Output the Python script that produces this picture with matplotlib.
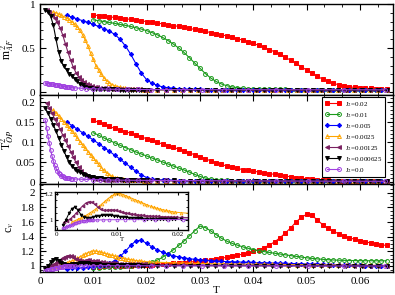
import numpy as np
import matplotlib
matplotlib.use('Agg')
import matplotlib.pyplot as plt
from matplotlib.ticker import MultipleLocator, AutoMinorLocator, FuncFormatter

plt.rcParams['font.family'] = ['Liberation Serif', 'DejaVu Serif']
plt.rcParams['mathtext.fontset'] = 'stix'

# ---- data ----
T_red = np.linspace(0.010, 0.065, 56)
red_m2 = [.875, .868, .861, .854, .847, .840, .832, .825, .817, .809,
          .800, .792, .783, .774, .765, .755, .745, .734, .723, .711,
          .699, .688, .676, .664, .651, .637, .622, .606, .589, .571,
          .552, .531, .508, .483, .456, .427, .395, .361, .325, .288,
          .250, .213, .178, .147, .120, .099, .082, .069, .059, .052,
          .047, .043, .040, .037, .035, .033]
red_t2 = [.154, .149, .144, .139, .134, .130, .126, .122, .117, .113,
          .108, .104, .099, .095, .091, .087, .082, .078, .073, .068,
          .063, .058, .053, .048, .044, .040, .037, .034, .031, .029,
          .027, .025, .023, .021, .019, .017, .015, .013, .011, .0095,
          .008, .0065, .0055, .0045, .0038, .0032, .0027, .0023, .002, .0018,
          .0016, .0015, .0014, .0013, .0012, .0012]
red_cv = [.990, .992, .994, .996, .998, 1.000, 1.003, 1.006, 1.009, 1.012,
          1.015, 1.019, 1.023, 1.027, 1.031, 1.036, 1.041, 1.047, 1.053, 1.060,
          1.068, 1.076, 1.085, 1.095, 1.106, 1.118, 1.131, 1.146, 1.162, 1.180,
          1.200, 1.222, 1.250, 1.285, 1.330, 1.385, 1.450, 1.520, 1.600, 1.665,
          1.705, 1.690, 1.630, 1.565, 1.515, 1.475, 1.440, 1.410, 1.385, 1.365,
          1.345, 1.330, 1.315, 1.300, 1.290, 1.280]

T_green = np.linspace(0.010, 0.065, 56)
green_m2 = [.820, .810, .800, .790, .780, .768, .757, .745, .730, .715,
            .697, .675, .650, .620, .585, .545, .500, .450, .390, .330,
            .270, .210, .160, .120, .092, .072, .058, .049, .043, .039,
            .036, .034, .032, .031, .030, .029, .029, .028, .028, .027,
            .027, .027, .026, .026, .026, .025, .025, .025, .025, .024,
            .024, .024, .024, .024, .023, .023]
green_t2 = [.123, .117, .110, .104, .098, .092, .086, .081, .075, .070,
            .065, .060, .055, .050, .045, .040, .035, .030, .025, .019,
            .014, .010, .0075, .0058, .0047, .004, .0035, .0031, .0028, .0026,
            .0024, .0023, .0022, .0021, .0020, .0020, .0019, .0019, .0018, .0018,
            .0018, .0017, .0017, .0017, .0016, .0016, .0016, .0016, .0015, .0015,
            .0015, .0015, .0015, .0015, .0014, .0014]
green_cv = [.975, .978, .981, .984, .987, .991, .996, 1.002, 1.010, 1.020,
            1.033, 1.052, 1.080, 1.120, 1.170, 1.220, 1.280, 1.340, 1.410, 1.480,
            1.545, 1.525, 1.480, 1.430, 1.380, 1.340, 1.310, 1.285, 1.262, 1.242,
            1.225, 1.210, 1.197, 1.185, 1.174, 1.163, 1.153, 1.142, 1.132, 1.122,
            1.112, 1.104, 1.097, 1.091, 1.086, 1.082, 1.079, 1.077, 1.075, 1.074,
            1.073, 1.072, 1.072, 1.071, 1.071, 1.071]

T_blue = np.linspace(0.005, 0.065, 61)
blue_m2 = [.870, .850, .830, .810, .790, .768, .745, .720, .692, .655,
           .600, .525, .430, .320, .215, .140, .100, .075, .058, .048,
           .041, .036, .033, .031, .030, .029, .028, .027, .027, .026,
           .026, .025, .025, .025, .024, .024, .024, .024, .023, .023,
           .023, .023, .023, .022, .022, .022, .022, .022, .022, .021,
           .021, .021, .021, .021, .021, .021, .020, .020, .020, .020, .020]
blue_t2 = [.150, .141, .132, .123, .114, .105, .096, .086, .077, .067,
           .057, .047, .037, .027, .018, .011, .0075, .0058, .0048, .0042,
           .0038, .0035, .0033, .0031, .0030, .0029, .0028, .0027, .0026, .0025,
           .0025, .0024, .0024, .0023, .0023, .0022, .0022, .0021, .0021, .0021,
           .0020, .0020, .0020, .0019, .0019, .0019, .0018, .0018, .0018, .0018,
           .0017, .0017, .0017, .0017, .0016, .0016, .0016, .0016, .0016, .0015, .0015]
blue_cv = [.965, .968, .971, .975, .980, .986, .995, 1.010, 1.035, 1.075,
           1.130, 1.200, 1.280, 1.345, 1.350, 1.310, 1.260, 1.220, 1.187, 1.160,
           1.140, 1.124, 1.111, 1.100, 1.090, 1.082, 1.076, 1.071, 1.067, 1.063,
           1.060, 1.057, 1.055, 1.052, 1.050, 1.048, 1.046, 1.044, 1.042, 1.040,
           1.038, 1.036, 1.034, 1.032, 1.030, 1.028, 1.026, 1.024, 1.022, 1.020,
           1.018, 1.016, 1.014, 1.012, 1.010, 1.008, 1.006, 1.005, 1.004, 1.003, 1.002]

# shared high-T grid for the three smallest nonzero J2
T_tail = np.linspace(0.0205, 0.065, 30)

T_orange = np.linspace(0.0025, 0.0195, 35)
orange_m2 = [.91, .90, .885, .87, .855, .84, .82, .80, .77, .74,
             .70, .65, .59, .52, .44, .37, .30, .25, .20, .16,
             .13, .105, .085, .07, .06, .052, .046, .042, .038, .035,
             .033, .031, .030, .029, .028]
orange_m2_tail = [.028, .027, .027, .027, .026, .026, .026, .025, .025, .025,
                  .025, .024, .024, .024, .024, .023, .023, .023, .023, .023,
                  .022, .022, .022, .022, .022, .022, .021, .021, .021, .021]
orange_t2 = [.180, .173, .165, .158, .150, .143, .135, .127, .119, .110,
             .101, .093, .084, .076, .068, .060, .052, .044, .036, .029,
             .023, .018, .014, .011, .0088, .0073, .0063, .0057, .0052, .0048,
             .0045, .0042, .0040, .0038, .0036]
orange_t2_tail = [.0034, .0033, .0032, .0031, .0030, .0029, .0028, .0027, .0026, .0025,
                  .0025, .0024, .0023, .0023, .0022, .0022, .0021, .0021, .0020, .0020,
                  .0019, .0019, .0019, .0018, .0018, .0018, .0017, .0017, .0017, .0016]
orange_cv = [.985, .995, 1.005, 1.015, 1.027, 1.040, 1.055, 1.070, 1.087, 1.105,
             1.125, 1.145, 1.165, 1.183, 1.197, 1.205, 1.203, 1.195, 1.185, 1.175,
             1.165, 1.155, 1.145, 1.135, 1.125, 1.115, 1.106, 1.098, 1.091, 1.085,
             1.079, 1.074, 1.069, 1.065, 1.061]
orange_cv_tail = [1.056, 1.051, 1.047, 1.043, 1.040, 1.037, 1.035, 1.033, 1.031, 1.029,
                  1.027, 1.026, 1.025, 1.024, 1.023, 1.022, 1.021, 1.020, 1.019, 1.018,
                  1.017, 1.016, 1.015, 1.014, 1.013, 1.012, 1.011, 1.010, 1.009, 1.008]

T_purple = np.linspace(0.00125, 0.01975, 38)
purple_m2 = [.93, .91, .88, .84, .79, .73, .65, .55, .45, .36,
             .28, .22, .17, .14, .115, .095, .08, .07, .062, .055,
             .05, .046, .043, .040, .038, .036, .035, .034, .033, .032,
             .031, .031, .030, .030, .029, .029, .028, .028]
purple_m2_tail = [.028, .027, .027, .027, .026, .026, .026, .026, .025, .025,
                  .025, .025, .024, .024, .024, .024, .023, .023, .023, .023,
                  .023, .022, .022, .022, .022, .022, .022, .021, .021, .021]
purple_t2 = [.197, .185, .172, .158, .145, .132, .118, .104, .090, .076,
             .062, .049, .037, .027, .020, .015, .012, .0095, .008, .007,
             .0064, .0060, .0057, .0054, .0052, .0050, .0048, .0047, .0046, .0045,
             .0044, .0043, .0042, .0041, .0040, .0039, .0038, .0037]
purple_t2_tail = [.0036, .0035, .0034, .0033, .0032, .0031, .0030, .0029, .0028, .0027,
                  .0026, .0026, .0025, .0024, .0024, .0023, .0023, .0022, .0022, .0021,
                  .0021, .0020, .0020, .0020, .0019, .0019, .0019, .0018, .0018, .0018]
purple_cv = [.985, .995, 1.010, 1.030, 1.055, 1.082, 1.108, 1.128, 1.140, 1.138,
             1.122, 1.100, 1.082, 1.074, 1.075, 1.078, 1.078, 1.074, 1.068, 1.062,
             1.056, 1.051, 1.047, 1.043, 1.040, 1.037, 1.035, 1.033, 1.031, 1.029,
             1.028, 1.027, 1.026, 1.025, 1.024, 1.023, 1.022, 1.021]
purple_cv_tail = [1.020, 1.019, 1.018, 1.017, 1.016, 1.015, 1.015, 1.014, 1.013, 1.013,
                  1.012, 1.012, 1.011, 1.011, 1.010, 1.010, 1.009, 1.009, 1.009, 1.008,
                  1.008, 1.008, 1.007, 1.007, 1.007, 1.006, 1.006, 1.006, 1.005, 1.005]

T_black = np.linspace(0.001, 0.0195, 38)
black_m2 = [.93, .91, .86, .76, .60, .45, .35, .29, .25, .21,
            .18, .15, .12, .095, .075, .06, .05, .043, .039, .036,
            .034, .033, .032, .031, .030, .030, .029, .029, .028, .028,
            .028, .027, .027, .027, .026, .026, .026, .026]
black_m2_tail = [.026, .025, .025, .025, .025, .024, .024, .024, .024, .024,
                 .023, .023, .023, .023, .023, .023, .022, .022, .022, .022,
                 .022, .022, .022, .021, .021, .021, .021, .021, .021, .021]
black_t2 = [.185, .172, .158, .143, .127, .110, .093, .077, .062, .050,
            .040, .033, .028, .024, .020, .017, .015, .013, .012, .011,
            .010, .0093, .0087, .0082, .0078, .0074, .0070, .0067, .0064, .0061,
            .0058, .0056, .0054, .0052, .0050, .0048, .0047, .0046]
black_t2_tail = [.0045, .0043, .0041, .0039, .0037, .0036, .0034, .0033, .0032, .0031,
                 .0030, .0029, .0028, .0027, .0026, .0026, .0025, .0024, .0024, .0023,
                 .0023, .0022, .0022, .0021, .0021, .0021, .0020, .0020, .0020, .0019]
black_cv = [.960, 1.000, 1.050, 1.088, 1.100, 1.075, 1.040, 1.022, 1.016, 1.018,
            1.023, 1.028, 1.032, 1.035, 1.037, 1.037, 1.035, 1.032, 1.029, 1.026,
            1.023, 1.020, 1.018, 1.016, 1.014, 1.013, 1.012, 1.011, 1.010, 1.009,
            1.009, 1.008, 1.008, 1.007, 1.007, 1.007, 1.006, 1.006]
black_cv_tail = [1.006, 1.006, 1.005, 1.005, 1.005, 1.005, 1.004, 1.004, 1.004, 1.004,
                 1.004, 1.003, 1.003, 1.003, 1.003, 1.003, 1.003, 1.002, 1.002, 1.002,
                 1.002, 1.002, 1.002, 1.002, 1.001, 1.001, 1.001, 1.001, 1.001, 1.001]

T_violet = [.001, .00125, .0015, .00175, .002, .00225, .0025, .00275, .003, .00325,
            .0035, .00375, .004, .00425, .0045, .00475, .005, .00525, .0055, .00575,
            .006, .0066, .0076, .0087, .0099, .0112, .0127, .0144, .0163, .0184,
            .0208, .0236, .0268, .0304, .0345, .039, .0443, .0503, .057, .0647]
violet_m2 = [.100, .098, .096, .094, .091, .089, .086, .083, .080, .077,
             .074, .071, .068, .066, .063, .061, .058, .056, .054, .052,
             .050, .047, .043, .039, .036, .034, .032, .031, .030, .029,
             .028, .028, .027, .027, .026, .026, .025, .025, .025, .024]
violet_t2 = [.155, .135, .115, .097, .080, .065, .052, .042, .034, .028,
             .023, .019, .016, .014, .012, .011, .010, .0095, .009, .0085,
             .008, .0075, .007, .0065, .006, .0055, .005, .0047, .0045, .0042,
             .004, .0038, .0035, .0033, .003, .0028, .0025, .0023, .002, .0018]
violet_cv = [.935, .940, .945, .950, .955, .960, .965, .970, .975, .979,
             .983, .987, .990, .992, .994, .996, .997, .998, .999, .999,
             1.000, 1.000, 1.001, 1.002, 1.002, 1.003, 1.003, 1.003, 1.003, 1.003,
             1.003, 1.002, 1.002, 1.002, 1.001, 1.001, 1.001, 1.000, 1.000, 1.000]

labels = ['J$_2$=0.02', 'J$_2$=0.01', 'J$_2$=0.005', 'J$_2$=0.0025',
          'J$_2$=0.00125', 'J$_2$=0.000625', 'J$_2$=0.0']

series = [
    (T_red, red_m2, red_t2, red_cv),
    (T_green, green_m2, green_t2, green_cv),
    (T_blue, blue_m2, blue_t2, blue_cv),
    (np.concatenate([T_orange, T_tail]), orange_m2 + orange_m2_tail,
     orange_t2 + orange_t2_tail, orange_cv + orange_cv_tail),
    (np.concatenate([T_purple, T_tail]), purple_m2 + purple_m2_tail,
     purple_t2 + purple_t2_tail, purple_cv + purple_cv_tail),
    (np.concatenate([T_black, T_tail]), black_m2 + black_m2_tail,
     black_t2 + black_t2_tail, black_cv + black_cv_tail),
    (np.array(T_violet), violet_m2, violet_t2, violet_cv),
]
styles = [
    dict(color='#ff0000', marker='s', mfc='#ff0000'),
    dict(color='#1a9a1a', marker='o', mfc='none'),
    dict(color='#0000ff', marker='D', mfc='#0000ff', ms=2.2),
    dict(color='#ffa500', marker='^', mfc='none'),
    dict(color='#7a2060', marker='<', mfc='#7a2060'),
    dict(color='#000000', marker='v', mfc='#000000'),
    dict(color='#a040e0', marker='o', mfc='none'),
]

fig = plt.figure(figsize=(3.95, 2.95), dpi=100)
W, H = 395, 295
ax1 = fig.add_axes([40/W, 1-95/H, 353/W, 91/H])
ax2 = fig.add_axes([40/W, 1-184/H, 353/W, 89/H], sharex=ax1)
ax3 = fig.add_axes([40/W, 1-272/H, 353/W, 88/H], sharex=ax1)
axin = fig.add_axes([55/W, 1-230/H, 133/W, 38.5/H])

fmt = FuncFormatter(lambda v, p: '%g' % round(v, 6))

for (T, m2, t2, cv), lab, st in zip(series, labels, styles):
    kw = dict(lw=0.8, ms=st.get('ms', 2.8), mew=0.7, color=st['color'],
              marker=st['marker'], mfc=st['mfc'])
    ax1.plot(T, m2, **kw)
    ax2.plot(T, t2, label=lab, **kw)
    ax3.plot(T, cv, **kw)

# inset: low-T specific heat of the four smallest J2
for (T, m2, t2, cv), st in zip(series[3:], styles[3:]):
    axin.plot(T, cv, lw=0.7, ms=2.0, mew=0.6, color=st['color'],
              marker=st['marker'], mfc=st['mfc'])

for ax in (ax1, ax2, ax3, axin):
    ax.tick_params(which='both', direction='in', top=True, right=True)
    ax.tick_params(which='major', length=4, width=0.8, labelsize=8)
    ax.tick_params(which='minor', length=2, width=0.6)
    for s in ax.spines.values():
        s.set_linewidth(1.0)
    ax.xaxis.set_major_formatter(fmt)
    ax.yaxis.set_major_formatter(fmt)

ax1.set_xlim(0, 0.0662)
ax1.xaxis.set_major_locator(MultipleLocator(0.01))
ax1.xaxis.set_minor_locator(AutoMinorLocator(3))
ax1.tick_params(labelbottom=False)
ax2.tick_params(labelbottom=False)

ax1.set_ylim(-0.034, 1.0)
ax1.yaxis.set_major_locator(MultipleLocator(0.5))
ax1.yaxis.set_minor_locator(MultipleLocator(0.1))
ax1.set_ylabel(r'm$_{AF}^{\,2}$', fontsize=8.5)

ax2.set_ylim(-0.005, 0.2175)
ax2.yaxis.set_major_locator(MultipleLocator(0.05))
ax2.yaxis.set_minor_locator(MultipleLocator(0.01))
ax2.set_ylabel(r'T$^{2}_{OP}$', fontsize=8.5)

ax3.set_ylim(0.918, 2.12)
ax3.yaxis.set_major_locator(MultipleLocator(0.2))
ax3.yaxis.set_minor_locator(MultipleLocator(0.05))
ax3.set_ylabel(r'c$_v$', fontsize=8.5)
ax3.set_xlabel('T', fontsize=8, labelpad=0)

for ax in (ax1, ax2, ax3):
    ax.yaxis.set_label_coords(-0.068, 0.5)

axin.set_xlim(-0.0003, 0.0217)
axin.set_ylim(0.923, 1.219)
axin.xaxis.set_major_locator(MultipleLocator(0.01))
axin.xaxis.set_minor_locator(AutoMinorLocator(3))
axin.yaxis.set_major_locator(MultipleLocator(0.2))
axin.yaxis.set_minor_locator(MultipleLocator(0.05))
axin.tick_params(which='major', length=2.5, labelsize=5, pad=1.5)
axin.tick_params(which='minor', length=1.5)
axin.set_xlabel('T', fontsize=5, labelpad=0)

leg = ax2.legend(loc='upper right', bbox_to_anchor=(385/W, 1-97/H),
                 bbox_transform=fig.transFigure, fontsize=5, numpoints=2,
                 handlelength=2.4, handleheight=0.6, labelspacing=0.3,
                 borderpad=0.4, borderaxespad=0, handletextpad=0.5,
                 fancybox=False, framealpha=1, edgecolor='black')
leg.get_frame().set_linewidth(0.8)

fig.savefig('out.png', dpi=100)
